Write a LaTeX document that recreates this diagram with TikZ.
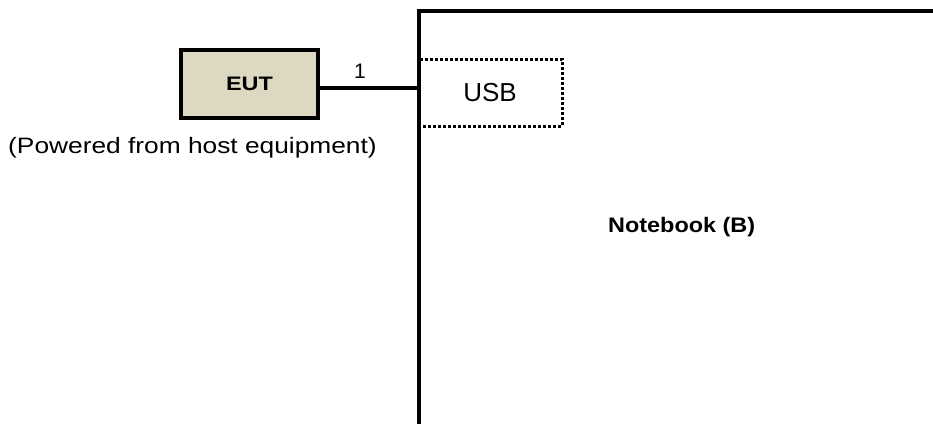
\documentclass[tikz,border=0pt]{standalone}
\usepackage{fontspec}
\setmainfont{Liberation Sans}
\usepackage{graphicx}
\definecolor{euttan}{RGB}{221,216,194}
\begin{document}
\begin{tikzpicture}[x=1pt,y=-1pt,
  thick line/.style={line width=4pt},
  eutbox/.style={draw,thick line,fill=euttan,minimum width=137pt,minimum height=68pt,inner sep=0pt},
  usbbox/.style={draw,line width=3pt,dash pattern=on 3pt off 2pt,minimum width=144pt,minimum height=67pt,inner sep=0pt},
  lbl/.style={inner sep=0pt,text=black}]
\useasboundingbox (0,0) rectangle (933,423);
% notebook outline
\coordinate (nbbottom) at (418.5,430);
\coordinate (nbcorner) at (418.5,11);
\coordinate (nbright) at (940,11);
% USB port
\node[usbbox] (usb) at (490,92.5) {\fontsize{26}{30}\selectfont USB};
\draw[thick line,line join=miter] (nbbottom) -- (nbcorner) -- (nbright);
% EUT
\node[eutbox] (eut) at (249.5,84.2) {\scalebox{1.2}[1]{\fontsize{19.5}{23}\selectfont\bfseries EUT}};
\coordinate (c1) at (418.5,88.3);
\draw[thick line] (eut.east |- c1) -- (c1);
\node[lbl,anchor=base] (n1) at (360,78) {\fontsize{21}{25}\selectfont 1};
\node[lbl,anchor=base west] (pw) at (8,153) {\scalebox{1.18}[1]{\fontsize{22.3}{26}\selectfont (Powered from host equipment)}};
\node[lbl,anchor=base west] (nb) at (608,232.7) {\scalebox{1.115}[1]{\fontsize{21}{25}\selectfont\bfseries Notebook (B)}};
\end{tikzpicture}
\end{document}
